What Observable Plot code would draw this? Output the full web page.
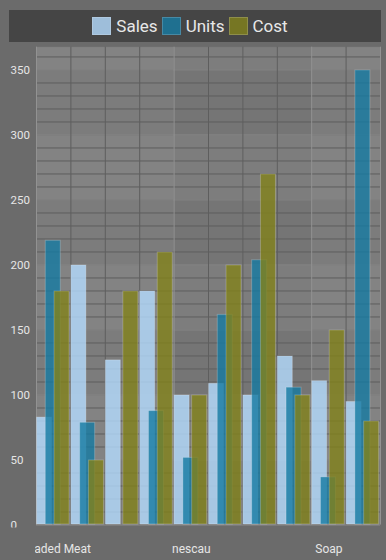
<!DOCTYPE html>
<html>
<head>
<meta charset="utf-8">
<script src="https://cdn.jsdelivr.net/npm/d3@7"></script>
<script src="https://cdn.jsdelivr.net/npm/@observablehq/plot@0.6"></script>
<style>
  html, body { margin: 0; padding: 0; background: #6b6b6b; width: 386px; height: 560px; overflow: hidden; font-family: Roboto, "Noto Sans", sans-serif; }
  #legend { margin: 10px 5px 0 9px; height: 32px; background: #454545; display: flex; align-items: center; justify-content: center; padding-right: 6px; box-sizing: border-box; }
  .item { display: flex; align-items: center; margin-right: 4px; }
  .sw { width: 17px; height: 16px; border: 1px solid rgba(255,255,255,0.18); margin-right: 5px; }
  .lbl { color: #e8e8e8; font-size: 17px; line-height: 18px; }
  #chart svg { display: block; }
</style>
</head>
<body>
<div id="legend"></div>
<div id="chart"></div>
<script>
// ---- data ----
const categories = ["Breaded Meat", "Item 2", "Item 3", "Item 4", "nescau", "Item 6", "Item 7", "Item 8", "Soap", "Item 10"];
const seriesNames = ["Sales", "Units", "Cost"];
const sales = [83, 200, 127, 180, 100, 109, 100, 130, 111, 95];
const units = [219, 79, 0, 88, 52, 162, 204, 106, 37, 350];
const cost  = [180, 50, 180, 210, 100, 200, 270, 100, 150, 80];
const yTicks = [0, 50, 100, 150, 200, 250, 300, 350];
const labelEvery = 4;

// ---- styles ----
const colors = ["#b4dcff", "#157ba3", "#82821a"];
const barAlpha = 0.8;
const yMax = 367.5;
const barOffset = [0, 0.255, 0.51];
const barWidth = 0.465;

const seriesValues = [sales, units, cost];
const table = [];
seriesNames.forEach((s, k) => categories.forEach((c, i) => table.push({series: s, k, i, category: c, value: seriesValues[k][i]})));

// legend
const legend = document.getElementById("legend");
seriesNames.forEach((s, k) => {
  const it = document.createElement("div");
  it.className = "item";
  const sw = document.createElement("div");
  sw.className = "sw";
  const c = d3.color(colors[k]); c.opacity = barAlpha;
  sw.style.background = c.formatRgb();
  const lb = document.createElement("span");
  lb.className = "lbl";
  lb.textContent = s;
  it.appendChild(sw); it.appendChild(lb);
  legend.appendChild(it);
});

const idx = categories.map((c, i) => i);
const minorTicks = d3.range(0, yMax, 10);
const bands = d3.range(0, yMax, 50).map(v => ({y1: v, y2: Math.min(v + 50, yMax), light: (v / 50) % 2 === 1}));
const xLabelIdx = idx.filter(i => i % labelEvery === 0);

const W = 386, H = 518;
const svg = Plot.plot({
  width: W,
  height: H,
  marginTop: 4.7,
  marginBottom: 35.5,
  marginLeft: 36,
  marginRight: 6,
  style: {background: "transparent", fontFamily: "Roboto, 'Noto Sans', sans-serif", overflow: "visible"},
  x: {type: "linear", domain: [0, categories.length], axis: null},
  y: {domain: [0, yMax], axis: null},
  color: {domain: seriesNames, range: colors},
  marks: [
    Plot.frame({fill: "#757575", stroke: null}),
    // column shading (groups of 4)
    Plot.rect(idx, {x1: i => i, x2: i => i + 1, y1: 0, y2: yMax, fill: "#ffffff",
      fillOpacity: i => (Math.floor(i / 4) % 2 === 0 ? 0.05 : 0)}),
    // row shading (bands of 50)
    Plot.rect(bands, {y1: "y1", y2: "y2", fill: "#ffffff", fillOpacity: d => d.light ? 0.06 : 0}),
    // grid
    Plot.ruleY(minorTicks, {stroke: "#5e5e5e", strokeWidth: 1}),
    Plot.ruleY(yTicks, {stroke: "#929292", strokeWidth: 1}),
    Plot.ruleX(d3.range(0, categories.length + 1), {stroke: d => d % 4 === 0 || d === categories.length ? "#929292" : "#5e5e5e", strokeWidth: 1}),
    // bars
    Plot.rect(table.filter(d => d.value > 0), {
      x1: d => d.i + barOffset[d.k],
      x2: d => d.i + barOffset[d.k] + barWidth,
      y1: 0, y2: "value",
      fill: "series", fillOpacity: barAlpha,
      stroke: "#ffffff", strokeOpacity: 0.22, strokeWidth: 1,
      inset: 0.5
    }),
    // y labels
    Plot.text(yTicks, {y: d => d, text: d => String(d), frameAnchor: "left", dx: -26, textAnchor: "start",
      fill: "#e6e6e6", fontSize: 11.5}),
    // x labels
    Plot.text(xLabelIdx, {x: i => i + 0.5, text: i => categories[i], frameAnchor: "bottom", dy: 28,
      fill: "#e6e6e6", fontSize: 12})
  ]
});

// clipping of tick labels like the original (clip applied to each label group)
const NS = "http://www.w3.org/2000/svg";
const defs = document.createElementNS(NS, "defs");
function addClip(id, x, y, w, h) {
  const cp = document.createElementNS(NS, "clipPath");
  cp.setAttribute("id", id);
  cp.setAttribute("clipPathUnits", "userSpaceOnUse");
  const r = document.createElementNS(NS, "rect");
  r.setAttribute("x", x); r.setAttribute("y", y); r.setAttribute("width", w); r.setAttribute("height", h);
  cp.appendChild(r);
  defs.appendChild(cp);
}
addClip("clipxlab", 34.5, -200, 346, H + 400);
addClip("clipylab", -200, -200, W + 400, 485 + 200);
svg.insertBefore(defs, svg.firstChild);
const xNames = xLabelIdx.map(i => categories[i]);
const yNames = yTicks.map(String);
let xGroup = null, yGroup = null;
svg.querySelectorAll("text").forEach(t => {
  if (!xGroup && xNames.includes(t.textContent)) xGroup = t.parentNode;
  if (!yGroup && yNames.includes(t.textContent)) yGroup = t.parentNode;
});
if (xGroup) xGroup.setAttribute("clip-path", "url(#clipxlab)");
if (yGroup) yGroup.setAttribute("clip-path", "url(#clipylab)");

document.getElementById("chart").appendChild(svg);
</script>
</body>
</html>
